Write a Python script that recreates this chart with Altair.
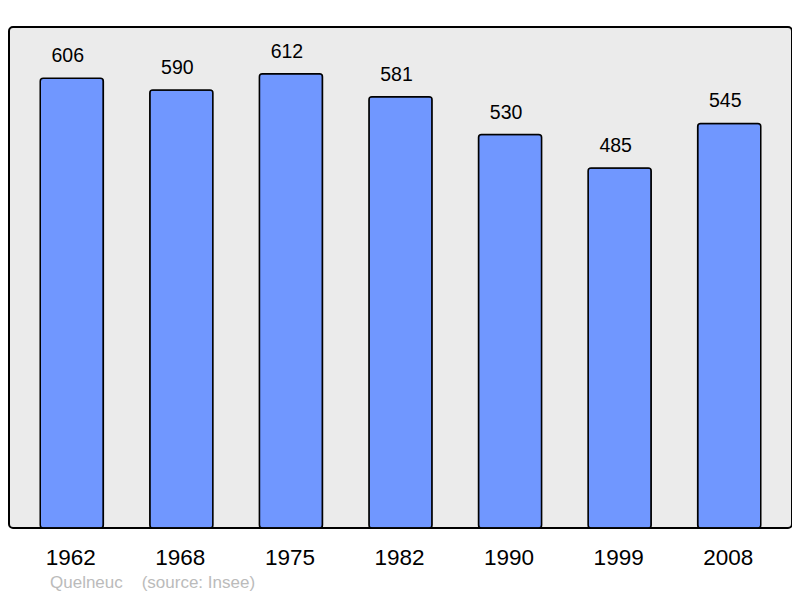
import altair as alt
import pandas as pd

years = ["1962", "1968", "1975", "1982", "1990", "1999", "2008"]
population = [606, 590, 612, 581, 530, 485, 545]
footer = "Quelneuc\u00a0\u00a0\u00a0\u00a0(source: Insee)"

df = pd.DataFrame({"year": years, "pop": population})

FONT = "Liberation Sans"

x = alt.X("year:N", sort=years, title=None,
          scale=alt.Scale(paddingInner=0.424, paddingOuter=0.285),
          axis=alt.Axis(labelAngle=0, labelFontSize=22.5, labelFont=FONT, labelColor="black",
                        labelPadding=18, labelOffset=-1, domain=False, ticks=False, grid=False))
y = alt.Y("pop:Q", title=None, scale=alt.Scale(domain=[0, 675], nice=False, zero=True),
          axis=None)

bars = alt.Chart(df).mark_bar(color="#7097ff", stroke="black", strokeWidth=1.5,
                              cornerRadius=3).encode(x=x, y=y)
labels = alt.Chart(df).mark_text(fontSize=19.5, font=FONT, color="black", dy=-16, dx=-4,
                                 baseline="alphabetic").encode(x=x, y=y, text="pop:Q")

chart = (bars + labels).properties(
    width=783, height=501,
    padding={"left": 1, "top": 19, "right": 0, "bottom": 2},
    title=alt.TitleParams(footer, orient="bottom", anchor="start", fontSize=17,
                          font=FONT, fontWeight="normal", color="#bbbbbb", dx=41, offset=6),
).configure_view(fill="#ebebeb", stroke="black", strokeWidth=2, cornerRadius=4)

chart.save("out.html", embed_options={"renderer": "svg", "actions": False})
